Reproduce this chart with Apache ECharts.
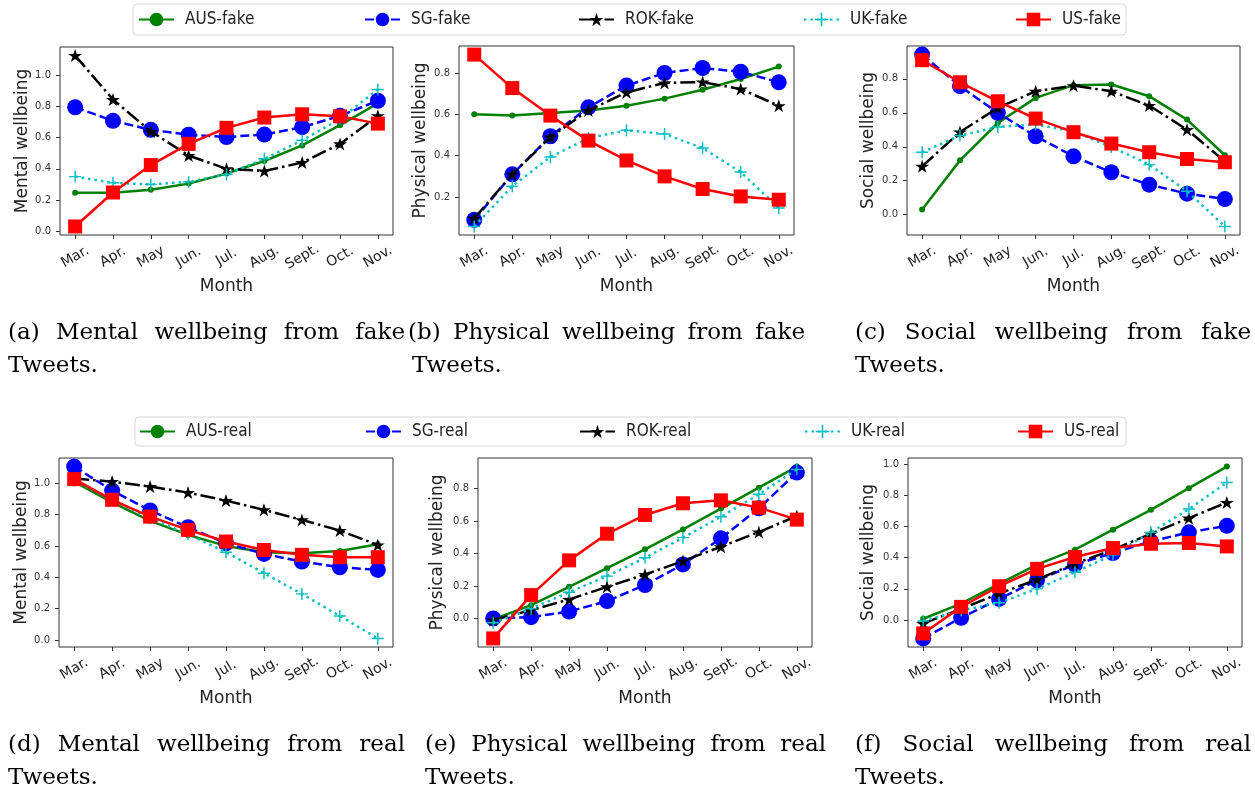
<!DOCTYPE html>
<html>
<head>
<meta charset="utf-8">
<script src="https://cdn.jsdelivr.net/npm/echarts@6/dist/echarts.min.js"></script>
<style>
  html, body { margin: 0; padding: 0; background: #fff; }
  #chart { width: 1255px; height: 795px; }
</style>
</head>
<body>
<div id="chart"></div>
<script>
// months on the x axis
const months = ['Mar.', 'Apr.', 'May', 'Jun.', 'Jul.', 'Aug.', 'Sept.', 'Oct.', 'Nov.'];
const countries = ['AUS', 'SG', 'ROK', 'UK', 'US'];

// each panel: one row per country, same order as countries
const mentalFake = [
  [0.246, 0.246, 0.265, 0.305, 0.37, 0.45, 0.55, 0.68, 0.82],
  [0.795, 0.708, 0.65, 0.619, 0.604, 0.62, 0.667, 0.74, 0.837],
  [1.127, 0.845, 0.64, 0.485, 0.40, 0.386, 0.44, 0.56, 0.74],
  [0.35, 0.31, 0.30, 0.316, 0.364, 0.464, 0.583, 0.72, 0.909],
  [0.03, 0.248, 0.424, 0.56, 0.663, 0.729, 0.75, 0.737, 0.69]
];
const physicalFake = [
  [0.6, 0.595, 0.606, 0.619, 0.642, 0.676, 0.719, 0.771, 0.831],
  [0.09, 0.31, 0.494, 0.634, 0.739, 0.80, 0.824, 0.806, 0.755],
  [0.097, 0.31, 0.49, 0.619, 0.706, 0.752, 0.756, 0.722, 0.642],
  [0.058, 0.252, 0.394, 0.485, 0.523, 0.505, 0.437, 0.321, 0.147],
  [0.889, 0.727, 0.594, 0.473, 0.377, 0.30, 0.239, 0.203, 0.187]
];
const socialFake = [
  [0.03, 0.32, 0.54, 0.688, 0.763, 0.767, 0.698, 0.56, 0.35],
  [0.943, 0.757, 0.60, 0.462, 0.344, 0.25, 0.177, 0.124, 0.092],
  [0.285, 0.487, 0.629, 0.727, 0.76, 0.727, 0.643, 0.501, 0.314],
  [0.368, 0.466, 0.517, 0.531, 0.491, 0.399, 0.295, 0.138, -0.069],
  [0.91, 0.78, 0.668, 0.566, 0.486, 0.419, 0.368, 0.328, 0.309]
];
const mentalReal = [
  [1.01, 0.877, 0.76, 0.67, 0.60, 0.56, 0.553, 0.568, 0.61],
  [1.106, 0.953, 0.826, 0.719, 0.617, 0.549, 0.50, 0.464, 0.447],
  [1.03, 1.01, 0.979, 0.94, 0.889, 0.83, 0.766, 0.698, 0.606],
  [1.017, 0.894, 0.777, 0.674, 0.56, 0.426, 0.294, 0.153, 0.01],
  [1.026, 0.894, 0.787, 0.702, 0.628, 0.574, 0.543, 0.528, 0.528]
];
const physicalReal = [
  [-0.006, 0.082, 0.195, 0.31, 0.426, 0.549, 0.677, 0.806, 0.936],
  [0.0, 0.008, 0.043, 0.107, 0.206, 0.333, 0.494, 0.679, 0.899],
  [-0.01, 0.051, 0.117, 0.195, 0.271, 0.354, 0.442, 0.533, 0.631],
  [-0.027, 0.06, 0.162, 0.261, 0.374, 0.498, 0.627, 0.765, 0.919],
  [-0.123, 0.144, 0.358, 0.522, 0.638, 0.71, 0.728, 0.683, 0.609]
];
const socialReal = [
  [0.009, 0.106, 0.232, 0.355, 0.451, 0.579, 0.706, 0.845, 0.983],
  [-0.117, 0.015, 0.136, 0.255, 0.355, 0.43, 0.504, 0.562, 0.604],
  [-0.021, 0.072, 0.17, 0.26, 0.362, 0.451, 0.553, 0.653, 0.753],
  [-0.006, 0.062, 0.111, 0.2, 0.306, 0.419, 0.562, 0.711, 0.881],
  [-0.085, 0.085, 0.217, 0.328, 0.404, 0.462, 0.489, 0.494, 0.472]
];

const captionA = ['(a) Mental wellbeing from fake', 'Tweets.'];
const captionB = ['(b) Physical wellbeing from fake', 'Tweets.'];
const captionC = ['(c) Social wellbeing from fake', 'Tweets.'];
const captionD = ['(d) Mental wellbeing from real', 'Tweets.'];
const captionE = ['(e) Physical wellbeing from real', 'Tweets.'];
const captionF = ['(f) Social wellbeing from real', 'Tweets.'];

const starPath = 'path://M50,0 L61.17,34.63 L97.55,34.55 L68.07,55.87 L79.39,90.45 L50,69 L20.61,90.45 L31.93,55.87 L2.45,34.55 L38.83,34.63 Z';
const plusPath = 'path://M44,0 H56 V44 H100 V56 H56 V100 H44 V56 H0 V44 H44 Z';

const countryStyle = {
  AUS: {color: '#008000', symbol: 'circle', size: 6, dash: 'solid'},
  SG: {color: '#0000ff', symbol: 'circle', size: 16, dash: [9, 4]},
  ROK: {color: '#000000', symbol: starPath, size: [14, 13], dash: [15, 4, 2.5, 4]},
  UK: {color: '#00bfbf', symbol: plusPath, size: 12, dash: [2.5, 4]},
  US: {color: '#ff0000', symbol: 'rect', size: 14, dash: 'solid'}
};

const panels = [
  {rows: mentalFake, tag: 'fake', yName: 'Mental wellbeing', grid: {left: 60, top: 47, width: 333, height: 188}, gap: 29, caption: captionA, cap: [8, 405, 333, true]},
  {rows: physicalFake, tag: 'fake', yName: 'Physical wellbeing', grid: {left: 459, top: 46, width: 335, height: 189}, gap: 30, caption: captionB, cap: [408, 805, 333, true]},
  {rows: socialFake, tag: 'fake', yName: 'Social wellbeing', grid: {left: 907, top: 46, width: 333, height: 189}, gap: 30, caption: captionC, cap: [855, 1251, 333, true]},
  {rows: mentalReal, tag: 'real', yName: 'Mental wellbeing', grid: {left: 59, top: 458, width: 334, height: 189}, gap: 28, caption: captionD, cap: [8, 405, 745, true]},
  {rows: physicalReal, tag: 'real', yName: 'Physical wellbeing', grid: {left: 478, top: 458, width: 334, height: 189}, gap: 32, caption: captionE, cap: [425, 826, 745, true]},
  {rows: socialReal, tag: 'real', yName: 'Social wellbeing', grid: {left: 908, top: 458, width: 334, height: 189}, gap: 31, caption: captionF, cap: [855, 1251, 745, true]}
];

const sans = '"DejaVu Sans", sans-serif';
const captionFont = '23px "DejaVu Serif", serif';
const ctx = document.createElement('canvas').getContext('2d');
ctx.font = captionFont;

function captionLine(text, x0, x1, y, justify) {
  if (!justify) {
    return [{type: 'text', x: x0, y: y, style: {text: text, font: captionFont, fill: '#000', verticalAlign: 'middle'}}];
  }
  const words = text.split(' ');
  const widths = words.map(w => ctx.measureText(w).width);
  const sum = widths.reduce((a, b) => a + b, 0);
  const space = ctx.measureText(' ').width;
  const natural = sum + space * (words.length - 1);
  const target = x1 - x0;
  let scale = 1, gap;
  if (natural > target) {
    scale = target / natural;
    gap = space;
  } else {
    gap = (target - sum) / (words.length - 1);
  }
  const out = [];
  let x = x0;
  words.forEach((w, i) => {
    out.push({type: 'text', x: x, y: y, scaleX: scale, style: {text: w, font: captionFont, fill: '#000', verticalAlign: 'middle'}});
    x += (widths[i] + gap) * scale;
  });
  return out;
}

function ticksFor(min, max) {
  const t = [];
  for (let k = Math.ceil(min / 0.2 - 1e-9); k * 0.2 <= max + 1e-9; k++) t.push(+(k * 0.2).toFixed(1));
  return t;
}

const grids = [], xAxes = [], yAxes = [], series = [], graphics = [];

panels.forEach((p, pi) => {
  const all = p.rows.flat();
  const lo = Math.min(...all), hi = Math.max(...all);
  const pad = (hi - lo) * 0.05;
  const yMin = lo - pad, yMax = hi + pad;

  grids.push(Object.assign({show: true, borderColor: '#333', borderWidth: 1, containLabel: false}, p.grid));

  xAxes.push({
    gridIndex: pi, type: 'value', min: -0.4, max: 8.4, position: 'bottom',
    name: 'Month', nameLocation: 'middle', nameGap: 43,
    nameTextStyle: {fontFamily: sans, fontSize: 17, color: '#222'},
    axisLine: {show: false, onZero: false},
    axisTick: {show: true, length: 4, lineStyle: {color: '#333'}, customValues: months.map((m, i) => i)},
    axisLabel: {
      customValues: months.map((m, i) => i), formatter: v => months[Math.round(v)],
      rotate: 30, align: 'center', verticalAlign: 'middle', margin: 22,
      fontFamily: sans, fontSize: 14, color: '#222'
    },
    splitLine: {show: false}
  });

  const ticks = ticksFor(yMin, yMax);
  yAxes.push({
    gridIndex: pi, type: 'value', min: yMin, max: yMax, position: 'left',
    name: p.yName, nameLocation: 'middle', nameGap: p.gap,
    nameTextStyle: {fontFamily: sans, fontSize: 17, color: '#222'},
    axisLine: {show: false, onZero: false},
    axisTick: {show: true, length: 4, lineStyle: {color: '#333'}, customValues: ticks},
    axisLabel: {customValues: ticks, formatter: v => v.toFixed(1), fontFamily: sans, fontSize: 10, color: '#333', margin: 9},
    splitLine: {show: false}
  });

  p.rows.forEach((vals, ci) => {
    const c = countries[ci];
    const st = countryStyle[c];
    series.push({
      name: c + '-' + p.tag,
      type: 'line',
      xAxisIndex: pi, yAxisIndex: pi,
      data: vals.map((v, i) => [i, v]),
      symbol: st.symbol, symbolSize: st.size, showAllSymbol: true,
      lineStyle: {color: st.color, width: 2.5, type: st.dash},
      itemStyle: {color: st.color, borderWidth: 0},
      z: 2 + ci
    });
  });

  const [x0, x1, y, justify] = p.cap;
  graphics.push(...captionLine(p.caption[0], x0, x1, y, justify));
  const x2 = pi === 1 ? x0 + 4 : x0;
  graphics.push(...captionLine(p.caption[1], x2, x1, y + 33, false));
});

// legend frames
graphics.push({type: 'rect', shape: {x: 133, y: 4, width: 993, height: 31, r: 4}, style: {fill: 'none', stroke: '#d8d8d8', lineWidth: 1}});
graphics.push({type: 'rect', shape: {x: 135, y: 417, width: 991, height: 29, r: 4}, style: {fill: 'none', stroke: '#d8d8d8', lineWidth: 1}});

const legendTopX = [138, 364, 578, 803, 1015];
const legendBottomX = [139, 365, 579, 804, 1017];
const legends = [];
countries.forEach((c, i) => {
  [['fake', legendTopX[i], 11], ['real', legendBottomX[i], 423]].forEach(([tag, x, y]) => {
    legends.push({
      data: [c + '-' + tag], left: x, top: y, padding: 0,
      itemWidth: 35, itemHeight: 17,
      textStyle: {fontFamily: '"DejaVu Sans Condensed", "DejaVu Sans", sans-serif', fontSize: 17, color: '#222', padding: [0, 0, 0, 6]}
    });
  });
});

const chart = echarts.init(document.getElementById('chart'), null, {renderer: 'canvas'});
chart.setOption({
  animation: false,
  backgroundColor: '#fff',
  legend: legends,
  grid: grids,
  xAxis: xAxes,
  yAxis: yAxes,
  series: series,
  graphic: graphics
});
</script>
</body>
</html>
